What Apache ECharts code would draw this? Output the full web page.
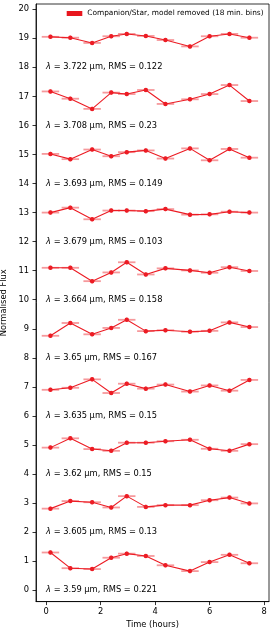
<!DOCTYPE html>
<html>
<head>
<meta charset="utf-8">
<script src="https://cdn.jsdelivr.net/npm/echarts@6/dist/echarts.min.js"></script>
<style>html,body{margin:0;padding:0;background:#fff}#c{width:274px;height:629px}</style>
</head>
<body>
<div id="c"></div>
<script>
// ---- data ----
const times = [0.16, 0.89, 1.69, 2.39, 2.96, 3.66, 4.38, 5.28, 6.00, 6.73, 7.46];
const timeErr = [0.32, 0.32, 0.32, 0.32, 0.32, 0.32, 0.32, 0.32, 0.32, 0.32, 0.32];
const wavelengths = ['3.59', '3.605', '3.62', '3.635', '3.65', '3.664', '3.679', '3.693', '3.708', '3.722'];
const rmsValues = ['0.221', '0.13', '0.15', '0.15', '0.167', '0.158', '0.103', '0.149', '0.23', '0.122'];
const labelY = [0, 2, 4, 6, 8, 10, 12, 14, 16, 18];
const flux_3590 = [1.30, 0.76, 0.73, 1.12, 1.26, 1.18, 0.86, 0.66, 0.97, 1.22, 0.93];
const flux_3605 = [2.81, 3.07, 3.03, 2.85, 3.24, 2.87, 2.93, 2.93, 3.10, 3.19, 2.99];
const flux_3620 = [4.91, 5.23, 4.86, 4.80, 5.08, 5.08, 5.13, 5.18, 4.87, 4.80, 5.03];
const flux_3635 = [6.90, 6.97, 7.26, 6.79, 7.11, 6.94, 7.08, 6.84, 7.05, 6.87, 7.24];
const flux_3650 = [8.76, 9.20, 8.81, 9.03, 9.31, 8.92, 8.95, 8.90, 8.93, 9.22, 9.06];
const flux_3664 = [11.10, 11.10, 10.64, 10.94, 11.29, 10.87, 11.08, 11.01, 10.93, 11.12, 10.99];
const flux_3679 = [13.00, 13.17, 12.77, 13.07, 13.07, 13.05, 13.12, 12.93, 12.94, 13.03, 13.00];
const flux_3693 = [15.02, 14.84, 15.17, 14.94, 15.08, 15.14, 14.86, 15.21, 14.80, 15.19, 14.89];
const flux_3708 = [17.17, 16.92, 16.57, 17.13, 17.08, 17.22, 16.74, 16.90, 17.08, 17.39, 16.84];
const flux_3722 = [19.05, 19.02, 18.84, 19.07, 19.15, 19.08, 18.94, 18.72, 19.07, 19.15, 19.02];
const fluxErr = [0.07, 0.07, 0.07, 0.07, 0.07, 0.07, 0.07, 0.07, 0.07, 0.07, 0.07];
const xTicks = [0, 2, 4, 6, 8];
const yTicks = [0,1,2,3,4,5,6,7,8,9,10,11,12,13,14,15,16,17,18,19,20];
const legendName = 'Companion/Star, model removed (18 min. bins)';

const allFlux = [flux_3590, flux_3605, flux_3620, flux_3635, flux_3650,
                 flux_3664, flux_3679, flux_3693, flux_3708, flux_3722];

const RED = '#ec1c24';
const FONT = 'DejaVu Sans';

const series = [];
// error bars
allFlux.forEach(function (fl) {
  const d = times.map(function (t, i) { return [t, fl[i], timeErr[i], fluxErr[i]]; });
  series.push({
    type: 'custom',
    name: 'err',
    z: 1,
    silent: true,
    data: d,
    renderItem: function (params, api) {
      const t = api.value(0), v = api.value(1), xe = api.value(2), ye = api.value(3);
      const a = api.coord([t - xe, v]), b = api.coord([t + xe, v]);
      const c = api.coord([t, v - ye]), e = api.coord([t, v + ye]);
      const st = { stroke: 'rgba(236,28,36,0.45)', lineWidth: 1.8 };
      return { type: 'group', children: [
        { type: 'line', shape: { x1: a[0], y1: a[1], x2: b[0], y2: b[1] }, style: st },
        { type: 'line', shape: { x1: c[0], y1: c[1], x2: e[0], y2: e[1] }, style: { stroke: 'rgba(236,28,36,0.6)', lineWidth: 1.5 } }
      ]};
    }
  });
});
// lines + markers
allFlux.forEach(function (fl) {
  series.push({
    type: 'line',
    name: legendName,
    z: 3,
    data: times.map(function (t, i) { return [t, fl[i]]; }),
    symbol: 'circle',
    symbolSize: 4.5,
    showAllSymbol: true,
    lineStyle: { color: RED, width: 1.1 },
    itemStyle: { color: RED },
    animation: false
  });
});
// annotation texts
series.push({
  type: 'custom',
  name: 'labels',
  z: 4,
  silent: true,
  data: labelY.map(function (y, i) { return [0, y, i]; }),
  renderItem: function (params, api) {
    const p = api.coord([api.value(0), api.value(1)]);
    const i = api.value(2);
    return {
      type: 'text',
      x: p[0], y: p[1],
      style: {
        text: '{it|λ} = ' + wavelengths[i] + ' µm, RMS = ' + rmsValues[i],
        fill: '#000',
        fontFamily: FONT,
        fontSize: 8.3,
        textAlign: 'left',
        textVerticalAlign: 'middle',
        rich: { it: { fontStyle: 'italic', fontFamily: FONT, fontSize: 8.3, fill: '#000' } }
      }
    };
  }
});

const chart = echarts.init(document.getElementById('c'), null, { renderer: 'canvas' });
chart.setOption({
  animation: false,
  backgroundColor: '#fff',
  textStyle: { fontFamily: FONT },
  grid: { left: 36, right: 5, top: 4, bottom: 27.4, show: true, borderColor: '#000', borderWidth: 0.8, backgroundColor: 'transparent', containLabel: false, outerBoundsMode: 'none' },
  legend: {
    data: [{ name: legendName, icon: 'rect', itemStyle: { color: '#e8161e' } }],
    left: 66.7, top: 9, padding: 0,
    itemWidth: 15.6, itemHeight: 5, itemGap: 5,
    textStyle: { fontFamily: FONT, fontSize: 7.4, color: '#000', lineHeight: 9, padding: [0, 0, 0, 0] },
    selectedMode: false
  },
  xAxis: {
    type: 'value', min: -0.37, max: 8.18,
    name: 'Time (hours)', nameLocation: 'middle', nameGap: 14,
    nameTextStyle: { fontFamily: FONT, fontSize: 8.3, color: '#000' },
    axisLine: { show: true, onZero: false, lineStyle: { color: '#000', width: 0.8 } },
    axisTick: { show: true, length: 3.5, lineStyle: { color: '#000', width: 0.8 }, customValues: xTicks },
    axisLabel: { fontFamily: FONT, fontSize: 8.3, color: '#000', margin: 6, customValues: xTicks },
    splitLine: { show: false }
  },
  yAxis: {
    type: 'value', min: -0.39, max: 20.18,
    name: 'Normalised Flux', nameLocation: 'middle', nameGap: 24, nameRotate: 90,
    nameTextStyle: { fontFamily: FONT, fontSize: 8.3, color: '#000' },
    axisLine: { show: true, onZero: false, lineStyle: { color: '#000', width: 0.8 } },
    axisTick: { show: true, length: 3.5, lineStyle: { color: '#000', width: 0.8 }, customValues: yTicks },
    axisLabel: { fontFamily: FONT, fontSize: 8.3, color: '#000', margin: 7, customValues: yTicks },
    splitLine: { show: false }
  },
  series: series
});
</script>
</body>
</html>
